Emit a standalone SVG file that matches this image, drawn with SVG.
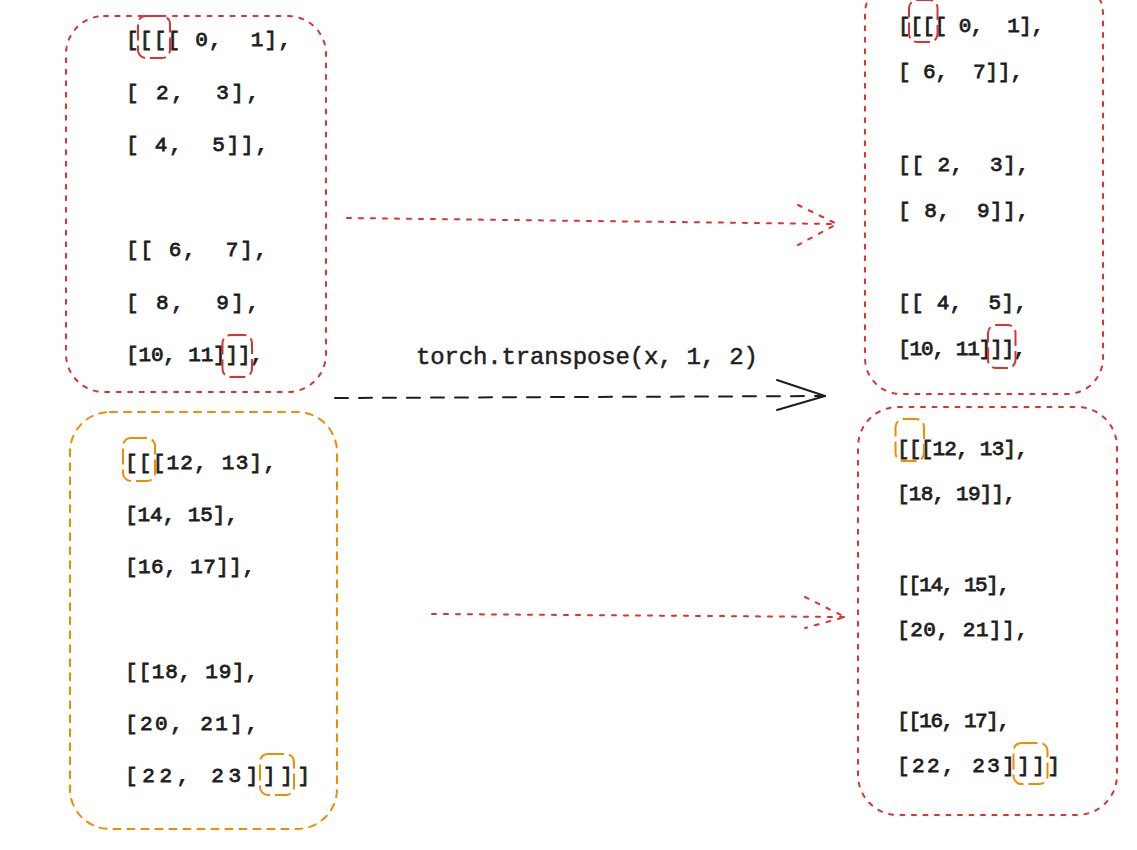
<svg xmlns="http://www.w3.org/2000/svg" width="1137" height="850" viewBox="0 0 1137 850">
<style>
  .t { font-family: "Liberation Mono", "DejaVu Sans Mono", monospace; font-size: 21px; fill: #1e1e1e; stroke: #1e1e1e; stroke-width: 0.8; white-space: pre; }
  .lbl { font-family: "Liberation Mono", "DejaVu Sans Mono", monospace; font-size: 24px; fill: #1e1e1e; stroke: #1e1e1e; stroke-width: 0.5; white-space: pre; }
  .boxr { fill: none; stroke: #e03131; stroke-width: 2; stroke-dasharray: 4 7.5; stroke-linecap: round; }
  .boxo { fill: none; stroke: #f08c00; stroke-width: 2; stroke-dasharray: 7 7; stroke-linecap: round; }
  .hlr { fill: none; stroke: #e03131; stroke-width: 2; stroke-dasharray: 16 5; }
  .hlo { fill: none; stroke: #f08c00; stroke-width: 2; stroke-dasharray: 16 5; }
  .ar { fill: none; stroke: #e03131; stroke-width: 2; stroke-dasharray: 4 8; stroke-linecap: round; stroke-linejoin: round; }
  .ak { fill: none; stroke: #1e1e1e; stroke-width: 2; stroke-dasharray: 13 11; stroke-linecap: round; }
  .akh { fill: none; stroke: #1e1e1e; stroke-width: 2; stroke-linecap: round; stroke-linejoin: round; }
</style>
<rect width="1137" height="850" fill="#ffffff"/>

<g id="input-batch0">
  <rect class="boxr" x="66" y="16" width="260" height="376" rx="38"/>
  <text class="t" x="126" y="46" textLength="165" lengthAdjust="spacing">[[[[ 0,  1],</text>
  <text class="t" x="126" y="98.5" textLength="133" lengthAdjust="spacing">[ 2,  3],</text>
  <text class="t" x="126" y="151" textLength="142" lengthAdjust="spacing">[ 4,  5]],</text>
  <text class="t" x="126" y="256" textLength="141" lengthAdjust="spacing">[[ 6,  7],</text>
  <text class="t" x="126" y="308.5" textLength="133" lengthAdjust="spacing">[ 8,  9],</text>
  <text class="t" x="126" y="361" textLength="137" lengthAdjust="spacing">[10, 11]]],</text>
  <rect class="hlr" x="138" y="16" width="32" height="42" rx="8"/>
  <rect class="hlr" x="222.5" y="335" width="29.5" height="42" rx="8"/>
</g>

<g id="input-batch1">
  <rect class="boxo" x="70" y="412" width="267" height="417" rx="40"/>
  <text class="t" x="125" y="469" textLength="151" lengthAdjust="spacing">[[[12, 13],</text>
  <text class="t" x="125" y="521" textLength="113" lengthAdjust="spacing">[14, 15],</text>
  <text class="t" x="125" y="573" textLength="130" lengthAdjust="spacing">[16, 17]],</text>
  <text class="t" x="125" y="678" textLength="133" lengthAdjust="spacing">[[18, 19],</text>
  <text class="t" x="125" y="730" textLength="133" lengthAdjust="spacing">[20, 21],</text>
  <text class="t" x="125" y="782" textLength="185" lengthAdjust="spacing">[22, 23]]]]</text>
  <rect class="hlo" x="123" y="438" width="32" height="43" rx="8"/>
  <rect class="hlo" x="260" y="754" width="34" height="41" rx="8"/>
</g>

<g id="output-batch0">
  <rect class="boxr" x="865" y="-22" width="238" height="416" rx="36"/>
  <text class="t" x="898" y="32" textLength="146" lengthAdjust="spacing">[[[[ 0,  1],</text>
  <text class="t" x="898" y="78" textLength="125" lengthAdjust="spacing">[ 6,  7]],</text>
  <text class="t" x="898" y="171" textLength="131" lengthAdjust="spacing">[[ 2,  3],</text>
  <text class="t" x="898" y="217" textLength="131" lengthAdjust="spacing">[ 8,  9]],</text>
  <text class="t" x="898" y="309" textLength="129" lengthAdjust="spacing">[[ 4,  5],</text>
  <text class="t" x="898" y="355" textLength="128" lengthAdjust="spacing">[10, 11]]],</text>
  <rect class="hlr" x="909" y="0" width="28.5" height="42" rx="8"/>
  <rect class="hlr" x="988" y="325" width="27.5" height="43" rx="8"/>
</g>

<g id="output-batch1">
  <rect class="boxr" x="858" y="407" width="259" height="408" rx="40"/>
  <text class="t" x="897" y="455" textLength="131" lengthAdjust="spacing">[[[12, 13],</text>
  <text class="t" x="897" y="500" textLength="119" lengthAdjust="spacing">[18, 19]],</text>
  <text class="t" x="897" y="591" textLength="113" lengthAdjust="spacing">[[14, 15],</text>
  <text class="t" x="897" y="636" textLength="131" lengthAdjust="spacing">[20, 21]],</text>
  <text class="t" x="897" y="727" textLength="113" lengthAdjust="spacing">[[16, 17],</text>
  <text class="t" x="897" y="772" textLength="163" lengthAdjust="spacing">[22, 23]]]]</text>
  <rect class="hlo" x="895.5" y="419" width="28.5" height="42" rx="8"/>
  <rect class="hlo" x="1013.5" y="743" width="34" height="41" rx="8"/>
</g>

<g id="connectors">
  <line class="ar" x1="347" y1="218" x2="837" y2="224"/>
  <polyline class="ar" points="798,205 837,224 798,245"/>
  <line class="ar" x1="432" y1="614" x2="845" y2="617"/>
  <polyline class="ar" points="805,597 845,617 805,628"/>
  <line class="ak" x1="335" y1="398" x2="825" y2="396"/>
  <polyline class="akh" points="777,380 825,396 777,410"/>
  <text class="lbl" x="416" y="364" textLength="342" lengthAdjust="spacing">torch.transpose(x, 1, 2)</text>
</g>
</svg>
